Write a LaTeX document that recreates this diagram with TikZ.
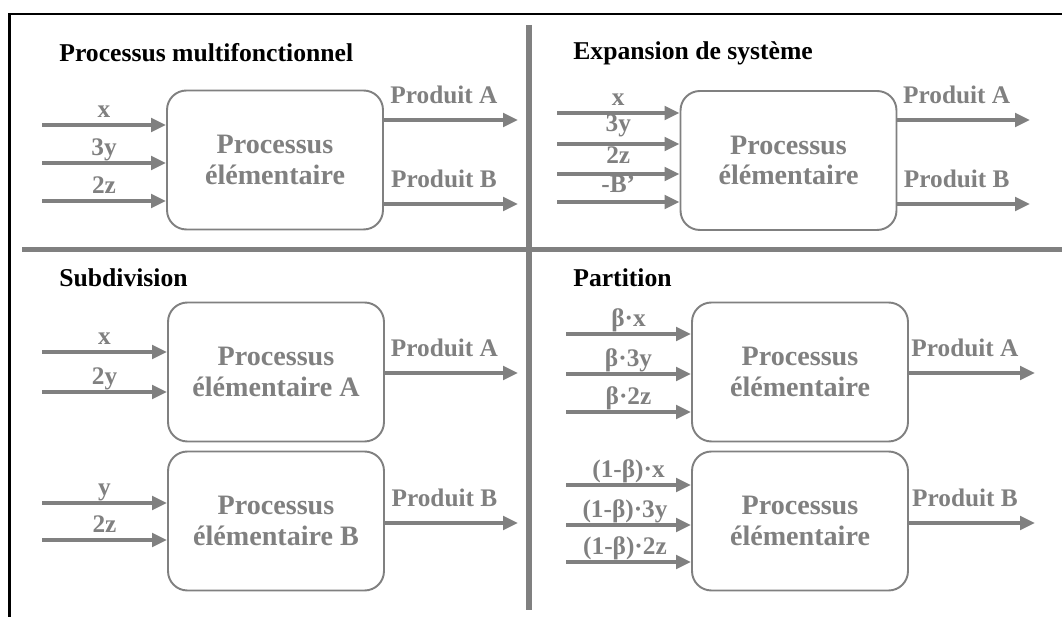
\documentclass[tikz,border=0pt]{standalone}
\usepackage{fontspec}
\setmainfont{Liberation Serif}
\usetikzlibrary{arrows.meta}
\definecolor{flowgray}{HTML}{808080}
\tikzset{
	flow/.style={draw=flowgray, line width=2.3pt, -{Triangle[length=8.5pt,width=7.6pt]}},
	procbox/.style={draw=flowgray, line width=1.1pt, rounded corners=11pt, text=flowgray, align=center,
		minimum width=4.32cm, minimum height=2.78cm, font=\fontsize{16}{17.5}\selectfont\bfseries},
	inlabel/.style={text=flowgray, anchor=base, yshift=4pt, inner sep=0pt, font=\fontsize{14.4}{16}\selectfont\bfseries},
	outlabel/.style={inlabel, yshift=5.6pt, xshift=-4pt},
	paneltitle/.style={anchor=base west, inner sep=0pt, font=\fontsize{14.6}{17}\selectfont\bfseries},
	divider/.style={draw=flowgray, line width=3.4pt}
}

\begin{document}
\begin{tikzpicture}[x=0.02cm, y=-0.02cm]
	%%%%% START %%%%%
	\useasboundingbox (0, 0) rectangle (1062, 617);
	
	\draw[line width=1.3pt] (9.5, 617) -- (9.5, 13.7) -- (1062, 13.7);
	\draw[divider] (529, 25) -- (529, 610);
	\draw[divider] (22, 249.5) -- (1062, 249.5);
	
	% processus multifonctionnel
	\node[paneltitle] (t1) at (59, 62) {Processus multifonctionnel};
	\node[procbox] (pm) at (275, 160) {Processus\\élémentaire};
	\coordinate (pm1) at (42, 125);
	\coordinate (pm2) at (42, 163);
	\coordinate (pm3) at (42, 201);
	\coordinate (pmA) at (518, 120);
	\coordinate (pmB) at (518, 204);
	\draw[flow] (pm1) -- (pm1 -| pm.west) node[inlabel, midway] {x};
	\draw[flow] (pm2) -- (pm2 -| pm.west) node[inlabel, midway] {3y};
	\draw[flow] (pm3) -- (pm3 -| pm.west) node[inlabel, midway] {2z};
	\draw[flow] (pm.east |- pmA) -- (pmA) node[outlabel, midway] {Produit A};
	\draw[flow] (pm.east |- pmB) -- (pmB) node[outlabel, midway] {Produit B};
	
	% expansion de systeme
	\node[paneltitle] (t2) at (573, 60) {Expansion de système};
	\node[procbox] (es) at (788.5, 160.5) {Processus\\élémentaire};
	\coordinate (es1) at (557, 113);
	\coordinate (es2) at (557, 144);
	\coordinate (es3) at (557, 174);
	\coordinate (es4) at (557, 202);
	\coordinate (esA) at (1030, 120);
	\coordinate (esB) at (1030, 204);
	\draw[flow] (es1) -- (es1 -| es.west) node[inlabel, midway] {x};
	\draw[flow] (es2) -- (es2 -| es.west) node[inlabel, midway, yshift=3pt] {3y};
	\draw[flow] (es3) -- (es3 -| es.west) node[inlabel, midway, yshift=2pt] {2z};
	\draw[flow] (es4) -- (es4 -| es.west) node[inlabel, midway, yshift=1.5pt] {-B’};
	\draw[flow] (es.east |- esA) -- (esA) node[outlabel, midway] {Produit A};
	\draw[flow] (es.east |- esB) -- (esB) node[outlabel, midway] {Produit B};
	
	% subdivision
	\node[paneltitle] (t3) at (59, 287) {Subdivision};
	\node[procbox] (sa) at (276, 372) {Processus\\élémentaire A};
	\node[procbox] (sb) at (276, 521) {Processus\\élémentaire B};
	\coordinate (sa1) at (42, 352);
	\coordinate (sa2) at (42, 392);
	\coordinate (sb1) at (42, 503);
	\coordinate (sb2) at (42, 540);
	\coordinate (saA) at (518, 373);
	\coordinate (sbB) at (518, 523);
	\draw[flow] (sa1) -- (sa1 -| sa.west) node[inlabel, midway] {x};
	\draw[flow] (sa2) -- (sa2 -| sa.west) node[inlabel, midway] {2y};
	\draw[flow] (sb1) -- (sb1 -| sb.west) node[inlabel, midway] {y};
	\draw[flow] (sb2) -- (sb2 -| sb.west) node[inlabel, midway] {2z};
	\draw[flow] (sa.east |- saA) -- (saA) node[outlabel, midway] {Produit A};
	\draw[flow] (sb.east |- sbB) -- (sbB) node[outlabel, midway] {Produit B};
	
	% partition
	\node[paneltitle] (t4) at (573, 287) {Partition};
	\node[procbox] (pa) at (800, 372) {Processus\\élémentaire};
	\node[procbox] (pb) at (800, 521) {Processus\\élémentaire};
	\coordinate (pa1) at (566, 334);
	\coordinate (pa2) at (566, 374);
	\coordinate (pa3) at (566, 412);
	\coordinate (pb1) at (566, 485);
	\coordinate (pb2) at (566, 525);
	\coordinate (pb3) at (566, 562);
	\coordinate (paA) at (1035, 373);
	\coordinate (pbB) at (1035, 523);
	\draw[flow] (pa1) -- (pa1 -| pa.west) node[inlabel, midway] {β·x};
	\draw[flow] (pa2) -- (pa2 -| pa.west) node[inlabel, midway] {β·3y};
	\draw[flow] (pa3) -- (pa3 -| pa.west) node[inlabel, midway] {β·2z};
	\draw[flow] (pb1) -- (pb1 -| pb.west) node[inlabel, midway] {(1-β)·x};
	\draw[flow] (pb2) -- (pb2 -| pb.west) node[inlabel, midway, xshift=-2pt] {(1-β)·3y};
	\draw[flow] (pb3) -- (pb3 -| pb.west) node[inlabel, midway, xshift=-2pt] {(1-β)·2z};
	\draw[flow] (pa.east |- paA) -- (paA) node[outlabel, midway] {Produit A};
	\draw[flow] (pb.east |- pbB) -- (pbB) node[outlabel, midway] {Produit B};
	%%%%% END %%%%%
\end{tikzpicture}
\end{document}
